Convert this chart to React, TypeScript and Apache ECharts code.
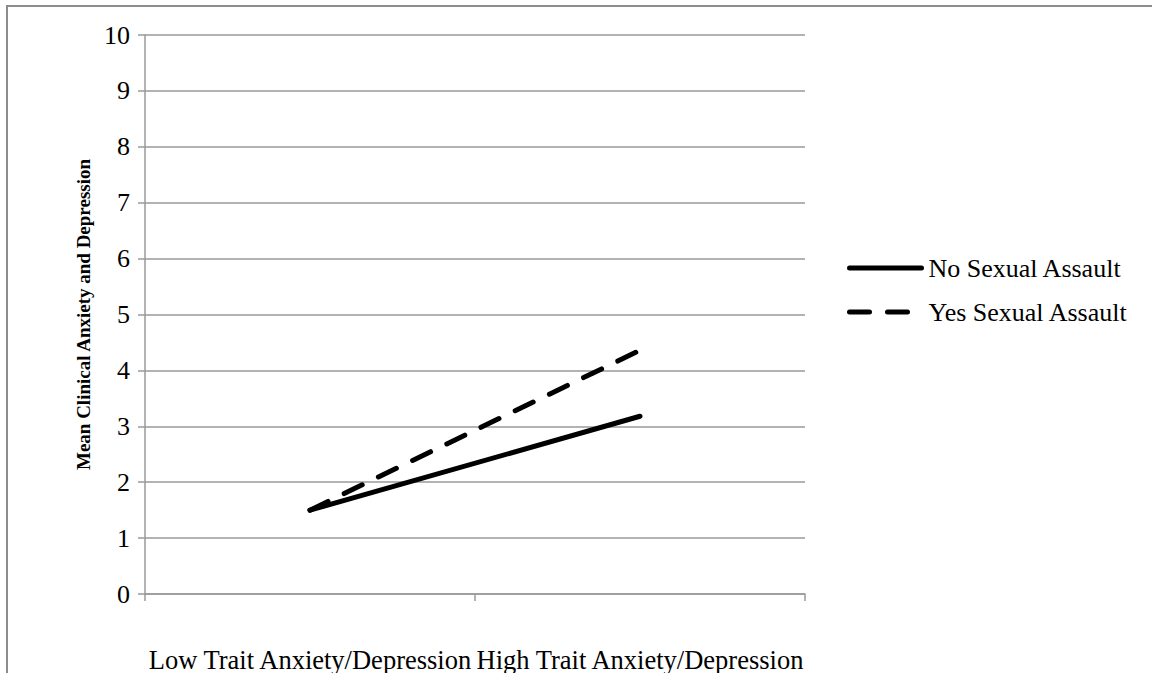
import React, { useEffect, useRef } from "react";
import * as echarts from "echarts";

const categories = ["Low Trait Anxiety/Depression", "High Trait Anxiety/Depression"];
const noAssault = [1.5, 3.18];
const yesAssault = [1.5, 4.36];
const yTicks = { min: 0, max: 10, interval: 1 };

const FONT = "'Liberation Serif', 'Times New Roman', serif";

export default function App() {
  const ref = useRef<HTMLDivElement>(null);
  useEffect(() => {
    if (!ref.current) return;
    const chart = echarts.init(ref.current, null, { renderer: "svg" });
    chart.setOption({
      animation: false,
      backgroundColor: "#ffffff",
      textStyle: { fontFamily: FONT },
      graphic: [
        {
          type: "rect",
          shape: { x: 7, y: 6, width: 1300, height: 800 },
          style: { fill: "none", stroke: "#8c8c8c", lineWidth: 2 },
          z: -1,
        },
      ],
      grid: { left: 145, right: 347, top: 35, bottom: 77, containLabel: false },
      legend: {
        orient: "vertical",
        left: 842,
        top: 250,
        itemWidth: 72,
        itemHeight: 14,
        itemGap: 18,
        itemStyle: { opacity: 0 },
        lineStyle: { width: 5 },
        textStyle: { fontFamily: FONT, fontSize: 26, color: "#000", padding: [0, 0, 0, 2] },
        data: ["No Sexual Assault", "Yes Sexual Assault"],
      },
      xAxis: {
        type: "category",
        data: categories,
        boundaryGap: true,
        axisLine: { show: true, lineStyle: { color: "#9a9a9a", width: 1.5 } },
        axisTick: { show: true, length: 7, lineStyle: { color: "#9a9a9a", width: 1.5 } },
        axisLabel: { fontFamily: FONT, fontSize: 26.5, color: "#000", margin: 52, interval: 0 },
        splitLine: { show: false },
      },
      yAxis: {
        type: "value",
        min: yTicks.min,
        max: yTicks.max,
        interval: yTicks.interval,
        name: "Mean Clinical Anxiety and Depression",
        nameLocation: "middle",
        nameGap: 43,
        nameTextStyle: { fontFamily: FONT, fontSize: 19, fontWeight: "bold", color: "#000" },
        axisLine: { show: true, lineStyle: { color: "#9a9a9a", width: 1.5 } },
        axisTick: { show: true, length: 7, lineStyle: { color: "#9a9a9a", width: 1.5 } },
        axisLabel: { fontFamily: FONT, fontSize: 26, color: "#000", margin: 15 },
        splitLine: { show: true, lineStyle: { color: "#9a9a9a", width: 1.5 } },
      },
      series: [
        {
          name: "No Sexual Assault",
          type: "line",
          data: noAssault,
          symbol: "none",
          lineStyle: { color: "#000", width: 5, cap: "round" },
          itemStyle: { color: "#000" },
        },
        {
          name: "Yes Sexual Assault",
          type: "line",
          data: yesAssault,
          symbol: "none",
          lineStyle: { color: "#000", width: 5, type: [20, 18], cap: "round" },
          itemStyle: { color: "#000" },
        },
      ],
    });
    return () => chart.dispose();
  }, []);
  return <div ref={ref} style={{ width: 1152, height: 673, position: "absolute", left: 0, top: 0 }} />;
}
